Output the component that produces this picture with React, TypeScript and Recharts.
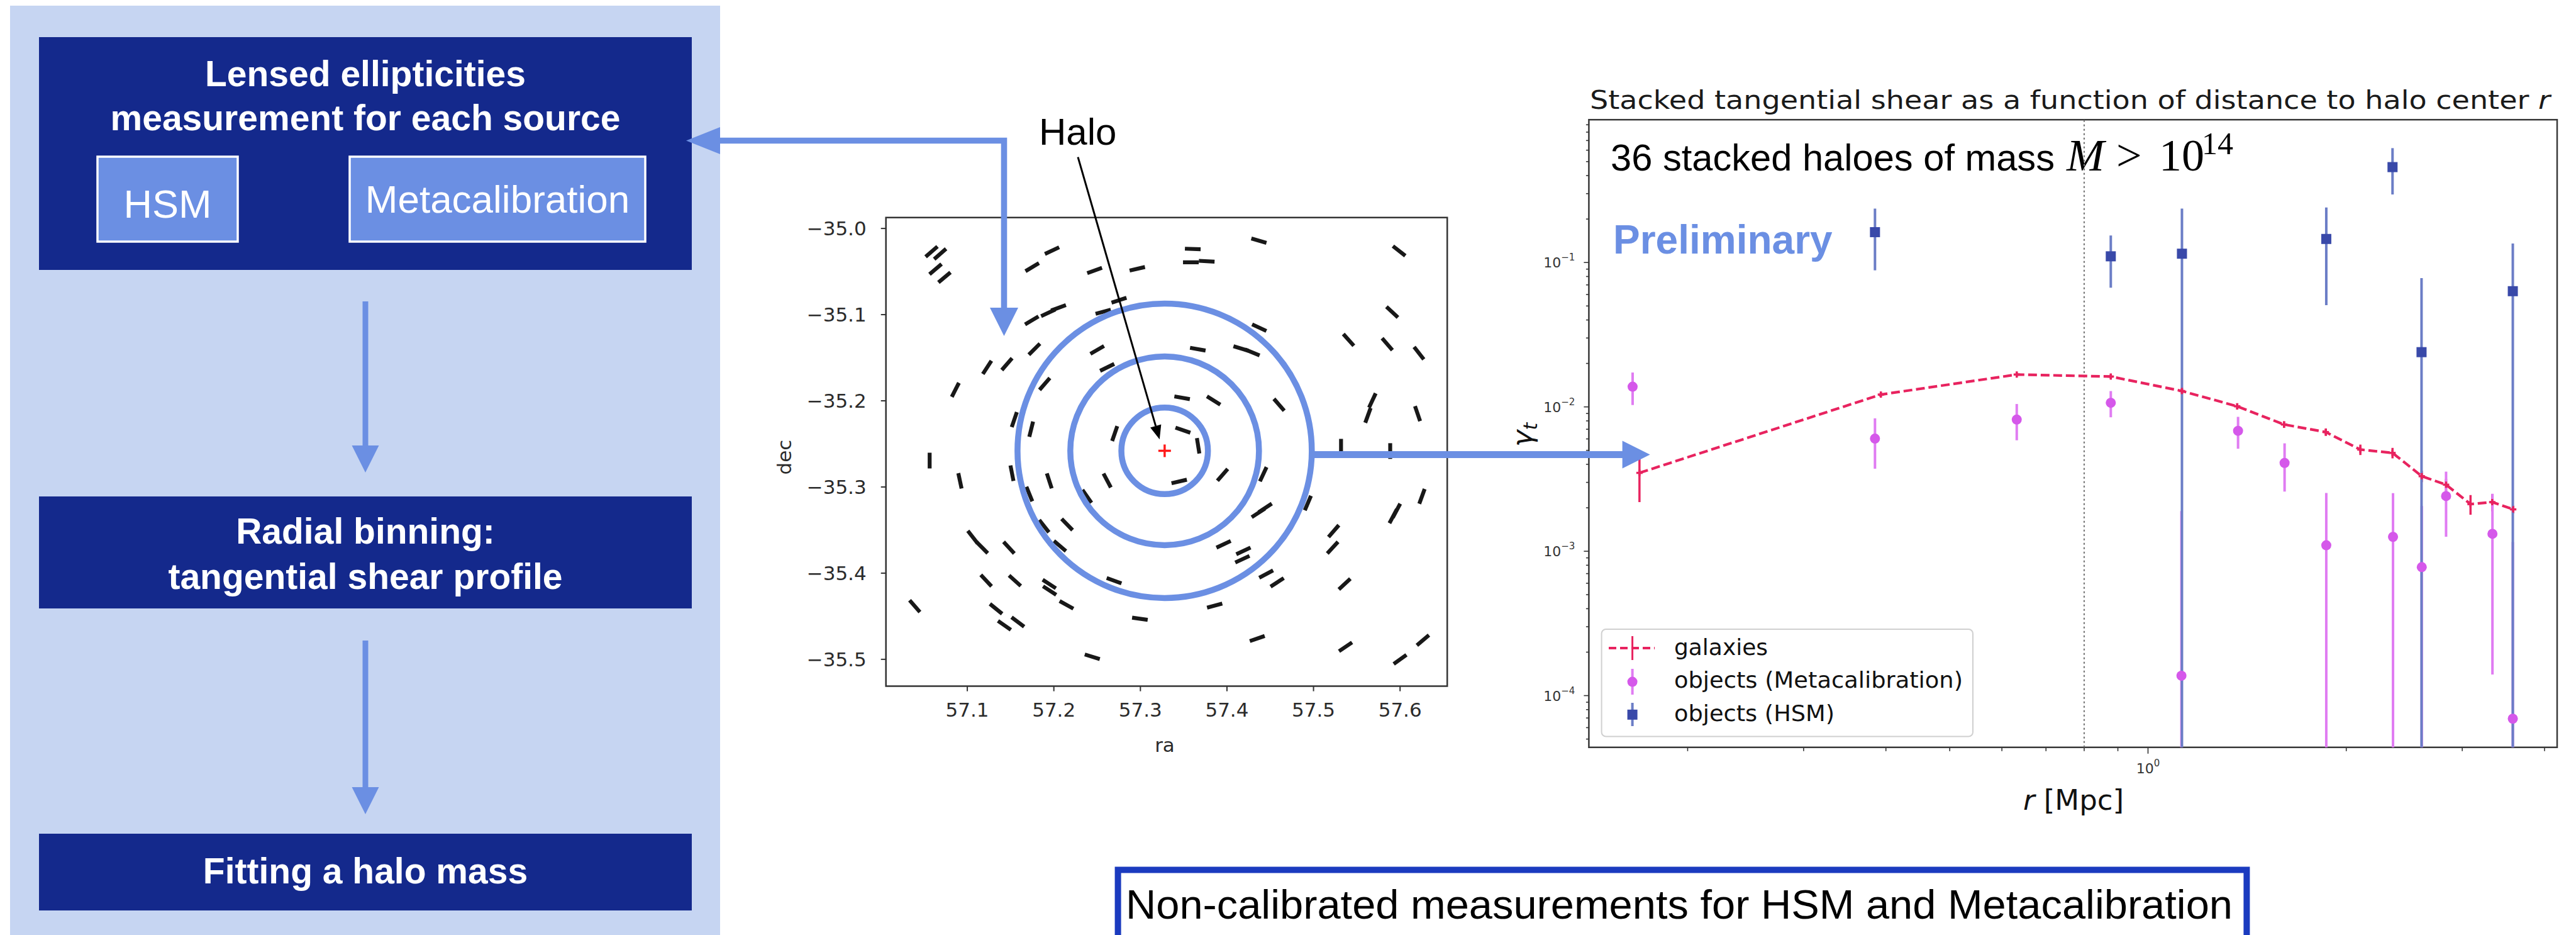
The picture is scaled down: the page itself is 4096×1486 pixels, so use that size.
import React from "react";
import {
  ScatterChart,
  Scatter,
  XAxis,
  YAxis,
  ErrorBar,
  ReferenceArea,
  ReferenceLine,
  ReferenceDot,
} from "recharts";

const W = 4096;
const H = 1486;

const NAVY = "#14298c";
const PALE = "#c6d5f2";
const SKY = "#6b8fe3";
const GAL_RED = "#e8235f";
const MC_PINK = "#d558ea";
const MC_BAR = "#e07cf2";
const HSM_BLUE = "#3949a9";
const HSM_BAR = "#6b7dc6";
const INK = "#2b2b2b";

// ---------- sky map of sources around the halo ----------
const SRC_RA = [
  57.0587, 57.0686, 57.0633, 57.0736, 57.1979, 57.175, 57.2471, 57.2964, 57.2753, 57.257,
  57.1935, 57.2054, 57.1745, 57.1775, 57.1458, 57.1229, 57.0862, 57.2501, 57.2616, 57.1894,
  57.1543, 57.1738, 57.2703, 57.3482, 57.3491, 57.0565, 57.0915, 57.1516, 57.1947, 57.2616,
  57.1717, 57.2382, 57.3448, 57.1062, 57.1172, 57.1481, 57.2153, 57.1887, 57.207, 57.1218,
  57.155, 57.1947, 57.1951, 57.2146, 57.1332, 57.1429, 57.1584, 57.0393, 57.2696, 57.2994,
  57.2444,
  57.4369, 57.3605, 57.3583, 57.3766, 57.5989, 57.5909, 57.5405, 57.5852, 57.6218, 57.4373,
  57.4162, 57.4293, 57.3663, 57.3846, 57.4602, 57.5629, 57.568, 57.6202, 57.3667, 57.5318,
  57.5886, 57.3949, 57.4419, 57.4935, 57.6253, 57.592, 57.5959, 57.4362, 57.4442, 57.3961,
  57.419, 57.4178, 57.4453, 57.458, 57.5233, 57.5221, 57.5359, 57.3858, 57.435, 57.537,
  57.6, 57.6264,
];
const SRC_DEC = [
  -35.0269, -35.0296, -35.0472, -35.0568, -35.0257, -35.0449, -35.0488, -35.0468, -35.0833, -35.0967,
  -35.0979, -35.0921, -35.1067, -35.1401, -35.1574, -35.1612, -35.1873, -35.1409, -35.1612, -35.1804,
  -35.2218, -35.233, -35.238, -35.1965, -35.2341, -35.2694, -35.2929, -35.284, -35.2929, -35.2925,
  -35.3082, -35.3109, -35.2936, -35.3581, -35.3704, -35.3704, -35.3435, -35.3454, -35.3685, -35.4087,
  -35.4087, -35.4126, -35.4202, -35.4368, -35.4414, -35.4606, -35.4567, -35.4383, -35.4087, -35.4529,
  -35.497,
  -35.0142, -35.0238, -35.0392, -35.038, -35.0261, -35.0971, -35.1293, -35.1343, -35.1447, -35.1151,
  -35.1393, -35.1439, -35.1401, -35.1996, -35.2046, -35.2169, -35.1996, -35.2149, -35.2522, -35.2533,
  -35.2583, -35.2859, -35.2852, -35.3186, -35.3109, -35.3339, -35.3274, -35.3301, -35.3243, -35.3665,
  -35.3742, -35.3838, -35.4011, -35.4107, -35.3512, -35.3704, -35.4126, -35.4376, -35.4759, -35.4855,
  -35.5001, -35.4778,
];
// ellipticity orientation, degrees from the ra axis
const SRC_ANGLE = [
  41, 41, 40, 40, 25, 31, 20, 13, 18, 15,
  25, 20, 31, 45, 49, 57, 63, 30, 26, 49,
  71, 76, 71, -10, -19, 90, -78, -79, -72, -62,
  -68, -55, 13, -52, -45, -47, -46, -52, -40, -47,
  -42, -33, -33, -29, -39, -35, -37, -49, -20, -8,
  -17,
  -16, -2, 0, -3, -38, -43, -48, -49, -52, -25,
  -17, -22, -10, -32, -49, 70, 65, -71, -81, 90,
  90, 49, 65, 67, 70, 62, 62, 33, 33, 25,
  25, 25, 28, 33, 49, 47, 43, 15, 19, 34,
  36, 40,
];
const HALO_RA = 57.328;
const HALO_DEC = -35.258;
const RING_RADII = [0.05, 0.109, 0.17]; // degrees
const RA_DOMAIN = [57.006, 57.6545];
const DEC_DOMAIN = [-35.5312, -34.9873];
const RA_TICKS = [57.1, 57.2, 57.3, 57.4, 57.5, 57.6];
const DEC_TICKS = [-35.5, -35.4, -35.3, -35.2, -35.1, -35.0];

// ---------- stacked tangential shear profile ----------
const GAL_R = [0.169, 0.393, 0.632, 0.878, 1.126, 1.366, 1.609, 1.862, 2.101, 2.351, 2.604, 2.835, 3.088, 3.331, 3.585];
const GAL_G = [0.00349, 0.01217, 0.01675, 0.01622, 0.01288, 0.01009, 0.00755, 0.00669, 0.00506, 0.0048, 0.00331, 0.00289, 0.00212, 0.00219, 0.00195];
const GAL_ERR = [0.0013, 0.0004, 0.0005, 0.0005, 0.0005, 0.0005, 0.0004, 0.0004, 0.00042, 0.0004, 0.0003, 0.00028, 0.00033, 0.0003, 0.00012];

const MC_R = [0.165, 0.385, 0.632, 0.878, 1.124, 1.37, 1.612, 1.865, 2.355, 2.604, 2.835, 3.334, 3.58];
const MC_G = [0.0138, 0.00603, 0.00817, 0.01067, 0.0001374, 0.00683, 0.00409, 0.0011, 0.001258, 0.000776, 0.00241, 0.00132, 0.0000692];
const MC_ERR = [0.0035, 0.0023, 0.0023, 0.0022, 0.00176, 0.0017, 0.0015, 0.00143, 0.00127, 0.00128, 0.00115, 0.00118, 0.00109];

const HSM_R = [0.385, 0.878, 1.126, 1.865, 2.351, 2.602, 3.58];
const HSM_G = [0.1623, 0.1104, 0.1151, 0.1456, 0.458, 0.02394, 0.0633];
const HSM_ERR = [0.074, 0.0435, 0.121, 0.095, 0.162, 0.054, 0.072];

const R_CUT = 0.8;
const R_DOMAIN = [0.1416, 4.18];
const G_DOMAIN = [4.38e-5, 0.975];
const R_TICKS = [0.2, 0.3, 0.4, 0.5, 0.6, 0.7, 0.8, 0.9, 1, 2, 3, 4];
const G_DECADES = [1e-5, 1e-4, 1e-3, 1e-2, 1e-1];
const G_TICKS = G_DECADES.flatMap((d) => [1, 2, 3, 4, 5, 6, 7, 8, 9].map((m) => +(m * d).toPrecision(3))).filter(
  (v) => v >= G_DOMAIN[0] && v <= G_DOMAIN[1]
);

const LEGEND_LABELS = ["galaxies", "objects (Metacalibration)", "objects (HSM)"];

// plot boxes on the page
const MAP_BOX = { x: 1408.7, y: 345.7, w: 892.5, h: 744.9 };
const PROF_BOX = { x: 2526.4, y: 190.3, w: 1539.6, h: 997.5 };

const stickData = SRC_RA.map((ra, i) => ({ ra, dec: SRC_DEC[i], angle: SRC_ANGLE[i] }));

// error bars that reach below the axis are cut at the bottom of the plot
const withErr = (rs: number[], gs: number[], errs: number[]) =>
  rs.map((r, i) => ({ r, g: gs[i], err: [Math.min(errs[i], gs[i] - G_DOMAIN[0]), errs[i]] }));
const galData = withErr(GAL_R, GAL_G, GAL_ERR);
const mcData = withErr(MC_R, MC_G, MC_ERR);
const hsmData = withErr(HSM_R, HSM_G, HSM_ERR);

const STICK_LEN = 25;
const Stick = (props: any) => {
  const { cx, cy, payload } = props;
  const a = (payload.angle * Math.PI) / 180;
  const dx = (Math.cos(a) * STICK_LEN) / 2;
  const dy = (Math.sin(a) * STICK_LEN) / 2;
  return <line x1={cx - dx} y1={cy + dy} x2={cx + dx} y2={cy - dy} stroke="#181818" strokeWidth={6.2} />;
};

const HaloMark = (props: any) => {
  const { cx, cy } = props;
  return (
    <g stroke="#ff1a1a" strokeWidth={3.5}>
      <line x1={cx - 10} y1={cy} x2={cx + 10} y2={cy} />
      <line x1={cx} y1={cy - 10} x2={cx} y2={cy + 10} />
    </g>
  );
};

const PlusMark = (props: any) => {
  const { cx, cy } = props;
  return (
    <g stroke={GAL_RED} strokeWidth={3.5}>
      <line x1={cx - 5} y1={cy} x2={cx + 5} y2={cy} />
      <line x1={cx} y1={cy - 5} x2={cx} y2={cy + 5} />
    </g>
  );
};
const McDot = (props: any) => <circle cx={props.cx} cy={props.cy} r={8} fill={MC_PINK} />;
const HsmSquare = (props: any) => (
  <rect x={props.cx - 8} y={props.cy - 8} width={16} height={16} fill={HSM_BLUE} />
);

const ringPx = (deg: number) => (deg * MAP_BOX.w) / (RA_DOMAIN[1] - RA_DOMAIN[0]);
const fmtDeg = (v: number) => v.toFixed(1).replace("-", "\u2212");

const renderGTick = (props: any) => {
  const { x, y, payload } = props;
  const e = Math.log10(payload.value);
  const major = Math.abs(e - Math.round(e)) < 1e-6;
  return (
    <g>
      <line x1={x} y1={y} x2={x - (major ? 8 : 4.5)} y2={y} stroke="#333" strokeWidth={1.6} />
      {major && (
        <text x={x - 22} y={y + 8} textAnchor="end" fontFamily="DejaVu Sans" fontSize={22} fill="#333">
          10
          <tspan dy={-11} fontSize={15}>
            {"\u2212" + Math.abs(Math.round(e))}
          </tspan>
        </text>
      )}
    </g>
  );
};

const renderRTick = (props: any) => {
  const { x, y, payload } = props;
  const major = Math.abs(payload.value - 1) < 1e-9;
  return (
    <g>
      <line x1={x} y1={y} x2={x} y2={y + (major ? 10 : 6)} stroke="#333" strokeWidth={1.6} />
      {major && (
        <text x={x} y={y + 41} textAnchor="middle" fontFamily="DejaVu Sans" fontSize={22} fill="#333">
          10
          <tspan dy={-11} fontSize={15}>
            0
          </tspan>
        </text>
      )}
    </g>
  );
};

const SkyMap = () => (
  <ScatterChart
    width={W}
    height={H}
    margin={{
      top: MAP_BOX.y,
      left: MAP_BOX.x - 120,
      right: W - MAP_BOX.x - MAP_BOX.w,
      bottom: H - MAP_BOX.y - MAP_BOX.h - 60,
    }}
  >
    <XAxis
      type="number"
      dataKey="ra"
      domain={RA_DOMAIN}
      allowDataOverflow
      ticks={RA_TICKS}
      interval={0}
      tickFormatter={(v: number) => v.toFixed(1)}
      height={60}
      axisLine={false}
      tickSize={8}
      tickMargin={18}
      tickLine={{ stroke: "#333", strokeWidth: 2 }}
      tick={{ fill: INK, fontSize: 31, fontFamily: "DejaVu Sans" }}
    />
    <YAxis
      type="number"
      dataKey="dec"
      domain={DEC_DOMAIN}
      allowDataOverflow
      ticks={DEC_TICKS}
      interval={0}
      tickFormatter={fmtDeg}
      width={120}
      axisLine={false}
      tickSize={8}
      tickMargin={23}
      tickLine={{ stroke: "#333", strokeWidth: 2 }}
      tick={{ fill: INK, fontSize: 31, fontFamily: "DejaVu Sans" }}
    />
    <ReferenceArea
      x1={RA_DOMAIN[0]}
      x2={RA_DOMAIN[1]}
      y1={DEC_DOMAIN[0]}
      y2={DEC_DOMAIN[1]}
      fill="none"
      fillOpacity={0}
      stroke="#333"
      strokeWidth={2.5}
    />
    <Scatter data={stickData} shape={Stick} isAnimationActive={false} />
    {RING_RADII.map((r) => (
      <ReferenceDot
        key={r}
        x={HALO_RA}
        y={HALO_DEC}
        r={ringPx(r)}
        fill="none"
        stroke={SKY}
        strokeWidth={9.5}
        ifOverflow="visible"
      />
    ))}
    <Scatter data={[{ ra: HALO_RA, dec: HALO_DEC }]} shape={HaloMark} isAnimationActive={false} />
  </ScatterChart>
);

const ShearProfile = () => (
  <ScatterChart
    width={W}
    height={H}
    margin={{
      top: PROF_BOX.y,
      left: PROF_BOX.x - 100,
      right: W - PROF_BOX.x - PROF_BOX.w,
      bottom: H - PROF_BOX.y - PROF_BOX.h - 60,
    }}
  >
    <XAxis
      type="number"
      dataKey="r"
      scale="log"
      domain={R_DOMAIN}
      allowDataOverflow
      ticks={R_TICKS}
      interval={0}
      height={60}
      axisLine={false}
      tickLine={false}
      tickSize={0}
      tickMargin={0}
      tick={renderRTick}
    />
    <YAxis
      type="number"
      dataKey="g"
      scale="log"
      domain={G_DOMAIN}
      allowDataOverflow
      ticks={G_TICKS}
      interval={0}
      width={100}
      axisLine={false}
      tickLine={false}
      tickSize={0}
      tickMargin={0}
      tick={renderGTick}
    />
    <ReferenceArea
      x1={R_DOMAIN[0]}
      x2={R_DOMAIN[1]}
      y1={G_DOMAIN[0]}
      y2={G_DOMAIN[1]}
      fill="none"
      fillOpacity={0}
      stroke="#3a3a3a"
      strokeWidth={2.5}
    />
    <ReferenceLine x={R_CUT} stroke="#777" strokeDasharray="3 4" strokeWidth={2.2} />
    <Scatter
      data={galData}
      shape={PlusMark}
      line={{ stroke: GAL_RED, strokeWidth: 4.2, strokeDasharray: "14 6" }}
      isAnimationActive={false}
    >
      <ErrorBar dataKey="err" direction="y" width={0} stroke={GAL_RED} strokeWidth={3.5} isAnimationActive={false} />
    </Scatter>
    <Scatter data={mcData} shape={McDot} isAnimationActive={false}>
      <ErrorBar dataKey="err" direction="y" width={0} stroke={MC_BAR} strokeWidth={4} isAnimationActive={false} />
    </Scatter>
    <Scatter data={hsmData} shape={HsmSquare} isAnimationActive={false}>
      <ErrorBar dataKey="err" direction="y" width={0} stroke={HSM_BAR} strokeWidth={4} isAnimationActive={false} />
    </Scatter>
  </ScatterChart>
);

const BOLD = { fontFamily: "Liberation Sans", fontWeight: 700, fill: "#fff", textAnchor: "middle" as const };

// flow diagram, figure titles and axis names
const Backdrop = () => (
  <svg width={W} height={H} style={{ position: "absolute", left: 0, top: 0 }}>
    <rect x={16} y={9} width={1129} height={1477} fill={PALE} />
    <rect x={62} y={59} width={1038} height={370} fill={NAVY} />
    <text x={581} y={137} fontSize={57} {...BOLD}>
      Lensed ellipticities
    </text>
    <text x={581} y={207} fontSize={57} {...BOLD}>
      measurement for each source
    </text>
    <rect x={155} y={249} width={223} height={135} fill={SKY} stroke="#fff" strokeWidth={3.5} />
    <rect x={556} y={249} width={470} height={135} fill={SKY} stroke="#fff" strokeWidth={3.5} />
    <text x={266.5} y={346} fontSize={63} fontFamily="Liberation Sans" fill="#fff" textAnchor="middle">
      HSM
    </text>
    <text x={791} y={338} fontSize={62} fontFamily="Liberation Sans" fill="#fff" textAnchor="middle">
      Metacalibration
    </text>
    <rect x={62} y={789} width={1038} height={178} fill={NAVY} />
    <text x={581} y={864} fontSize={57} {...BOLD}>
      Radial binning:
    </text>
    <text x={581} y={936} fontSize={57} {...BOLD}>
      tangential shear profile
    </text>
    <rect x={62} y={1325} width={1038} height={122} fill={NAVY} />
    <text x={581} y={1404} fontSize={57} {...BOLD}>
      Fitting a halo mass
    </text>

    <text x={1852} y={1195} fontSize={31} fontFamily="DejaVu Sans" fill={INK} textAnchor="middle">
      ra
    </text>
    <text
      x={0}
      y={0}
      transform="translate(1257.6,726.5) rotate(-90)"
      fontSize={31}
      fontFamily="DejaVu Sans"
      fill={INK}
      textAnchor="middle"
    >
      dec
    </text>
    <text x={1652} y={230} fontSize={60} fontFamily="Liberation Sans" fill="#000">
      Halo
    </text>

    <text
      x={2528}
      y={173}
      fontSize={40}
      fontFamily="DejaVu Sans"
      fill="#1a1a1a"
      textLength={1527}
      lengthAdjust="spacingAndGlyphs"
    >
      Stacked tangential shear as a function of distance to halo center <tspan fontStyle="italic">r</tspan>
    </text>
    <text x={2561} y={271} fontSize={60} fontFamily="Liberation Sans" fill="#000" textLength={706} lengthAdjust="spacingAndGlyphs">
      36 stacked haloes of mass
    </text>
    <text x={3286} y={271} fontSize={72} fontFamily="Liberation Serif" fontStyle="italic" fill="#000">
      M
    </text>
    <text x={3365} y={271} fontSize={72} fontFamily="Liberation Serif" fill="#000">
      {">"}
    </text>
    <text x={3433} y={271} fontSize={72} fontFamily="Liberation Serif" fill="#000">
      10
    </text>
    <text x={3501} y={245} fontSize={50} fontFamily="Liberation Serif" fill="#000">
      14
    </text>
    <text x={2565} y={403} fontSize={64} fontFamily="Liberation Sans" fontWeight={700} fill={SKY}>
      Preliminary
    </text>
    <text
      x={0}
      y={0}
      transform="translate(2436,691) rotate(-90)"
      fontSize={45}
      fontFamily="DejaVu Sans"
      fill="#111"
      textAnchor="middle"
    >
      <tspan fontStyle="italic">γ</tspan>
      <tspan fontStyle="italic" fontSize={30} dy={8}>
        t
      </tspan>
    </text>
    <text x={3297} y={1287} fontSize={45} fontFamily="DejaVu Sans" fill="#111" textAnchor="middle">
      <tspan fontStyle="italic">r</tspan> [Mpc]
    </text>

    <rect x={1777.6} y={1382.5} width={1794.8} height={110} fill="#fff" stroke="#1b3bbf" strokeWidth={10} />
    <text
      x={1790}
      y={1460}
      fontSize={65}
      fontFamily="Liberation Sans"
      fill="#000"
      textLength={1760}
      lengthAdjust="spacingAndGlyphs"
    >
      Non-calibrated measurements for HSM and Metacalibration
    </text>
  </svg>
);

// black pointer from the halo label
const haloArrow = (() => {
  const x0 = 1714, y0 = 249.7, x1 = 1843.8, y1 = 698.2;
  const len = Math.hypot(x1 - x0, y1 - y0);
  const ux = (x1 - x0) / len, uy = (y1 - y0) / len;
  const bx = x1 - ux * 22, by = y1 - uy * 22;
  const px = -uy * 9, py = ux * 9;
  return { x0, y0, bx, by, tip: `${x1},${y1} ${bx + px},${by + py} ${bx - px},${by - py}` };
})();

const LEGEND_TEXT_W = [149, 459, 255];
const LEGEND_BASE = [1041, 1093, 1146];

const Foreground = () => (
  <svg width={W} height={H} style={{ position: "absolute", left: 0, top: 0 }}>
    {/* flow arrows */}
    <line x1={581} y1={479} x2={581} y2={710} stroke={SKY} strokeWidth={9} />
    <polygon points="559.5,708 602.5,708 581,751" fill={SKY} />
    <line x1={581} y1={1018} x2={581} y2={1253} stroke={SKY} strokeWidth={9} />
    <polygon points="559.5,1251 602.5,1251 581,1294" fill={SKY} />

    {/* sources back to the measurement step */}
    <polyline points="1140,223.5 1596.5,223.5 1596.5,492" fill="none" stroke={SKY} strokeWidth={9.6} />
    <polygon points="1091,223.5 1145,202 1145,245" fill={SKY} />
    <polygon points="1574,489 1619,489 1596.5,534" fill={SKY} />

    {/* rings to profile */}
    <line x1={2084} y1={722.5} x2={2582} y2={722.5} stroke={SKY} strokeWidth={11} />
    <polygon points="2579.6,700.5 2579.6,744.5 2623.6,722.5" fill={SKY} />

    <line x1={haloArrow.x0} y1={haloArrow.y0} x2={haloArrow.bx} y2={haloArrow.by} stroke="#000" strokeWidth={3} />
    <polygon points={haloArrow.tip} fill="#000" />

    {/* legend */}
    <rect x={2546.6} y={1000} width={590.4} height={170.5} rx={7} fill="#fff" fillOpacity={0.85} stroke="#d0d0d0" strokeWidth={2} />
    <line x1={2558} y1={1030} x2={2631} y2={1030} stroke={GAL_RED} strokeWidth={4} strokeDasharray="12 6" />
    <line x1={2595.6} y1={1011} x2={2595.6} y2={1049} stroke={GAL_RED} strokeWidth={3} />
    <line x1={2595.6} y1={1063} x2={2595.6} y2={1104} stroke={MC_BAR} strokeWidth={4} />
    <circle cx={2595.6} cy={1083.6} r={8} fill={MC_PINK} />
    <line x1={2595.6} y1={1117} x2={2595.6} y2={1154} stroke={HSM_BAR} strokeWidth={4} />
    <rect x={2587.6} y={1127.8} width={16} height={16} fill={HSM_BLUE} />
    <g fontFamily="DejaVu Sans" fontSize={36} fill="#111">
      {LEGEND_LABELS.map((label, i) => (
        <text key={label} x={2662} y={LEGEND_BASE[i]} textLength={LEGEND_TEXT_W[i]} lengthAdjust="spacingAndGlyphs">
          {label}
        </text>
      ))}
    </g>
  </svg>
);

export default function App() {
  return (
    <div style={{ position: "absolute", left: 0, top: 0, width: W, height: H, background: "#fff", overflow: "hidden" }}>
      <Backdrop />
      <div style={{ position: "absolute", left: 0, top: 0 }}>
        <SkyMap />
      </div>
      <div style={{ position: "absolute", left: 0, top: 0 }}>
        <ShearProfile />
      </div>
      <Foreground />
    </div>
  );
}
